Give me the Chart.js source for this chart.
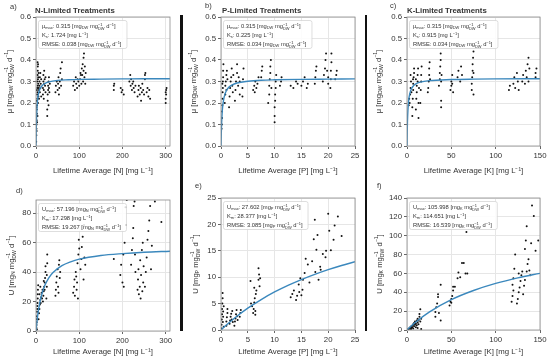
<!DOCTYPE html>
<html>
<head>
<meta charset="utf-8">
<script src="https://cdn.jsdelivr.net/npm/chart.js@4/dist/chart.umd.min.js"></script>
<style>
html, body { margin: 0; padding: 0; background: #fff; }
#fig { position: relative; width: 550px; height: 361px; overflow: hidden; }
#fig canvas { position: absolute; }
.bar { position: absolute; background: #111; }
</style>
</head>
<body>
<div id="fig">
  <canvas id="pa"></canvas>
  <canvas id="pb"></canvas>
  <canvas id="pc"></canvas>
  <canvas id="pd"></canvas>
  <canvas id="pe"></canvas>
  <canvas id="pf"></canvas>
  <div class="bar" style="left:180px;top:15px;width:3px;height:316px"></div>
  <div class="bar" style="left:365px;top:15px;width:2px;height:316px"></div>
</div>
<script>
// tick values
var nConcTicks = [0, 100, 200, 300];
var pConcTicks = [0, 5, 10, 15, 20, 25];
var kConcTicks = [0, 50, 100, 150];
var growthTicks = [0, 0.1, 0.2, 0.3, 0.4, 0.5, 0.6];
var nUptakeTicks = [0, 20, 40, 60, 80];
var pUptakeTicks = [0, 5, 10, 15, 20, 25];
var kUptakeTicks = [0, 20, 40, 60, 80, 100, 120, 140];

// observed growth rate (mu) vs lifetime average concentration
var nGrowthPts = [[0.5,0.02],[0.8,0.05],[1,0.08],[1.2,0.1],[1.5,0.12],[2,0.15],[1.8,0.17],[2.5,0.19],[2.2,0.21],[3,0.22],[2.8,0.24],[3.5,0.25],[3,0.27],[4,0.28],[3.2,0.3],[4.5,0.31],[3.8,0.33],[4,0.35],[4.2,0.37],[3.6,0.39],[2,0.26],[1,0.18],[5,0.29],[5,0.32],
  [1.5,0.07],[2.5,0.11],[3.5,0.14],[4.5,0.2],[5.5,0.23],[6,0.27],[6,0.34],[4.8,0.38],
  [7,0.22],[7,0.26],[8,0.28],[8,0.3],[9,0.32],[9,0.25],[10,0.27],[10,0.34],[11,0.29],[12,0.31],[12,0.23],
  [16,0.24],[16,0.27],[17,0.3],[17,0.33],[18,0.26],[19,0.29],[19,0.35],[20,0.31],[21,0.28],[22,0.25],[22,0.32],[18,0.22],
  [26,0.14],[26,0.17],[27,0.21],[27,0.24],[28,0.26],[28,0.28],[29,0.3],[30,0.27],[30,0.32],[31,0.25],[32,0.29],[29,0.19],
  [45,0.25],[46,0.28],[48,0.3],[50,0.26],[51,0.29],[52,0.32],[54,0.27],[55,0.3],[56,0.34],[58,0.28],[60,0.31],[60,0.39],[57,0.36],[53,0.24],
  [86,0.28],[88,0.3],[90,0.26],[92,0.32],[93,0.29],[95,0.27],[96,0.31],[98,0.3],[100,0.28],
  [102,0.31],[103,0.34],[105,0.29],[106,0.36],[107,0.33],[108,0.38],[109,0.3],[110,0.35],[110,0.41],[111,0.43],[112,0.32],[113,0.37],[114,0.29],[115,0.34],[104,0.33],
  [180,0.26],[180,0.28],[181,0.29],[196,0.27],[198,0.25],[200,0.26],[203,0.24],
  [216,0.3],[218,0.33],[219,0.28],[220,0.31],[222,0.26],[223,0.29],[225,0.3],[226,0.27],[228,0.25],[230,0.28],
  [235,0.23],[237,0.26],[238,0.28],[240,0.24],[242,0.27],[243,0.21],[245,0.25],[246,0.29],[248,0.26],[250,0.24],[252,0.31],[252,0.33],[253,0.34],
  [256,0.25],[258,0.27],[260,0.23],[262,0.26],[264,0.22],
  [300,0.2],[300,0.22],[301,0.24],[301,0.26],[302,0.27],[300,0.25]];
var pGrowthPts = [[0.1,0.08],[0.15,0.1],[0.2,0.13],[0.2,0.16],[0.25,0.19],[0.3,0.22],[0.3,0.25],[0.35,0.27],[0.35,0.3],[0.4,0.32],[0.4,0.35],[0.45,0.38],[0.25,0.29],
  [0.7,0.2],[0.8,0.24],[0.8,0.28],[0.9,0.3],[1,0.33],[1,0.26],[1.1,0.35],[1.2,0.31],
  [1.5,0.18],[1.6,0.23],[1.7,0.27],[1.8,0.3],[1.9,0.32],[2,0.36],[2.1,0.28],[2.2,0.25],[2.3,0.33],
  [2.6,0.21],[2.7,0.26],[2.8,0.3],[3,0.34],[3,0.38],[3.2,0.28],[3.3,0.32],[3.5,0.24],[3.5,0.3],
  [4,0.23],[4,0.27],[4.1,0.31],[4.2,0.36],
  [6,0.26],[6.2,0.28],[6.4,0.3],[6.6,0.27],[6.8,0.29],[7,0.32],[6.3,0.25],[7.5,0.32],[7.6,0.35],[7.7,0.37],
  [8.8,0.2],[9,0.24],[9,0.28],[9.1,0.31],[9.2,0.34],[9.2,0.37],[9.3,0.4],[9.4,0.27],
  [10,0.11],[10,0.14],[10,0.18],[10.1,0.21],[10.1,0.24],[10.2,0.27],[10.2,0.3],[10.3,0.33],
  [11,0.28],[11.2,0.3],[11.3,0.32],[13,0.28],[13.5,0.27],[14,0.3],[14.3,0.29],
  [15,0.28],[15.3,0.3],[15.6,0.32],[16,0.27],[16.2,0.29],
  [17.5,0.29],[17.6,0.32],[17.7,0.35],[17.8,0.37],
  [19,0.3],[19.2,0.33],[19.4,0.36],[19.5,0.4],[19.6,0.43],[19.8,0.35],[20,0.29],[20,0.32],
  [20.4,0.27],[20.5,0.31],[20.5,0.35],[20.6,0.39],[20.6,0.43],[21.3,0.31],[21.5,0.33],[21.6,0.35]];
var kGrowthPts = [[2,0.19],[2.5,0.22],[3,0.2],[3.5,0.24],[4,0.27],[4.5,0.3],[4,0.33],[5,0.25],
  [6,0.14],[6,0.18],[6.5,0.22],[7,0.26],[7,0.29],[7.5,0.32],[8,0.34],[8,0.36],[6.8,0.31],
  [10,0.17],[10.5,0.22],[11,0.25],[11,0.28],[12,0.3],[12,0.33],[12.5,0.36],[13,0.13],[13,0.2],[13.5,0.27],[10,0.31],
  [15,0.2],[15.5,0.26],[16,0.3],[16,0.33],[16.5,0.37],
  [24,0.27],[24.5,0.3],[25,0.33],[25,0.36],[25.5,0.39],[26,0.31],[23.5,0.25],
  [36,0.28],[37,0.31],[37,0.34],[37.5,0.37],[38,0.4],[38,0.43],[38.5,0.18],[38.5,0.21],[38.5,0.3],[39,0.33],
  [49,0.26],[50,0.28],[50,0.3],[51,0.33],[52,0.25],[51,0.29],
  [57,0.32],[58,0.35],[60,0.3],[61,0.37],[62,0.33],
  [73,0.26],[73,0.29],[73.5,0.32],[74,0.35],[74,0.38],[74.5,0.41],[75,0.44],[75,0.24],[75,0.34],
  [115,0.26],[116,0.28],[120,0.29],[121,0.32],[122,0.27],[124,0.34],[125,0.3],[126,0.26],
  [130,0.3],[131,0.33],[133,0.29],[134,0.35],[135,0.32],[136,0.38],[137,0.41],[137,0.3],[138,0.36],
  [145,0.32],[145,0.34],[146,0.36]];

// observed uptake rate (U) vs lifetime average concentration
var nUptakePts = [[0.5,0.5],[1,2],[1,4],[1.5,6],[2,8],[2,10],[2.5,13],[3,15],[3,17],[3.5,19],[4,22],[4,25],[4.5,28],[5,31],[2,1],
  [6,8],[7,12],[8,15],[9,18],[10,21],[11,19],[12,23],[13,26],[14,22],[15,28],[8,25],[10,30],
  [16,20],[17,24],[18,27],[19,30],[20,33],[21,36],[22,40],[22,44],[20,28],[18,34],
  [24,22],[25,30],[25,38],[26,46],[26,52],
  [45,24],[46,28],[47,33],[48,37],[50,42],[51,30],[52,26],[53,45],[54,48],[55,36],[56,40],
  [86,26],[88,30],[89,35],[90,24],[92,40],[93,37],[94,28],[95,33],[96,46],[97,22],[98,52],[100,56],[99,62],
  [103,42],[105,49],[106,57],[108,64],[110,35],[111,72],[112,50],[114,45],
  [180,49],[195,38],[197,45],[200,33],[203,30],[205,60],[207,84],[208,72],[210,89],[202,52],
  [220,45],[222,55],[224,63],[225,70],[226,85],[228,88],[229,52],[230,40],
  [235,28],[236,35],[237,42],[238,25],[240,30],[241,48],[242,22],[243,38],[245,55],[246,27],[247,60],[248,33],[249,44],
  [252,30],[254,40],[256,50],[258,62],[260,68],[262,75],[264,85],[266,42],[268,58],[290,74],[275,88]];
var pUptakePts = [[0.1,0.3],[0.1,1],[0.15,2],[0.2,3],[0.2,4],[0.25,5],[0.3,6],[0.3,7],[0.35,1.5],[0.4,2.5],[0.4,3.5],[0.5,4.5],[0.5,0.6],
  [1,0.8],[1,1.6],[1.1,2.4],[1.2,3.2],[1.2,4],
  [1.6,1.2],[1.7,1.8],[1.8,2.5],[1.9,3.1],[2,2],[2.1,3.6],[2.2,1.5],
  [2.5,0.8],[2.6,1.6],[2.7,2.2],[2.8,3],[2.9,3.8],[3,2.6],[3.1,1.9],[3.5,2.5],[3.6,3.2],[3.7,3.8],
  [5.5,9.3],[5.6,5],[5.8,4.5],[6,3.2],[6.1,4],[6.2,5.2],[6.3,6],[6.4,3.6],[6.5,6.8],[6.6,7.5],[6.2,8],[6.4,2.9],
  [7,9.5],[7.1,10.5],[7,11.7],[7.2,8.3],[7.3,9.8],
  [13,6.2],[13.3,6.8],[13.6,7.5],[14,5.7],[14.2,6.5],[14.5,8.6],[14.6,7.2],[14.8,9.8],[15,6.6],[15.2,7.6],[15.3,9.5],
  [15.6,10.8],[15.8,13.5],[16.2,12.4],[16.5,9],[17,13],[17.3,17.2],[17.5,20.9],[17.6,11],[17.8,15.2],[18,18],[18.2,9.5],
  [18.5,12],[18.6,11.4],[19,14.4],[19.5,13.8],[19.6,15],[20,22],[20.2,18.8],[20.5,15.1],[21,17.1],[21.2,19.8],[21.8,21.5],[22.5,17.8]];
var kUptakePts = [[1,0.5],[2,1],[3,1.5],[3,2.5],[4,3],[4.5,1],[5,2],[5,4],[6,3],[6.5,5],[7,1.5],[7,6],[8,4],[8,7.5],[9,5.5],[9,9],
  [10,3],[10,7],[11,10],[11,5],[12,8],[12,12],[13,6],[13,10],[14,14],[14,17],[15,9],[15,22],[16,12],[12,2],[16,1],
  [32,14],[32,19],[33,24],[34,28],[35,35],[35,38],[36,18],[38,10],[38,48],
  [48,26],[49,30],[50,33],[50,29],[51,36],[52,46],[52,42],[54,46],
  [57,55],[58,61],[60,56],[62,71],[64,71],[66,60],[67,104],[68,60],
  [118,30],[119,36],[120,42],[120,55],[121,65],[122,80],[119,48],
  [124,28],[125,33],[126,40],[127,45],[128,52],[129,58],[130,62],[126,60],
  [131,38],[132,47],[133,53],[133,86],[134,95],[135,62],[135,110],[136,70],[137,75],[138,63],[139,58],[140,92],[141,132],
  [143,121],[145,84],[148,95]];

// fitted curves
var nGrowthFit = [[0,0],[0.25,0.041],[0.5,0.071],[1,0.116],[2,0.169],[3,0.2],[5,0.234],[7.5,0.256],[10,0.269],[15,0.283],[20,0.29],[30,0.298],[50,0.305],[75,0.308],[100,0.31],[150,0.311],[200,0.312],[250,0.313],[310,0.313]];
var pGrowthFit = [[0,0],[0.05,0.057],[0.1,0.097],[0.2,0.148],[0.3,0.18],[0.5,0.217],[0.75,0.242],[1,0.257],[1.5,0.274],[2,0.283],[3,0.293],[5,0.301],[7.5,0.306],[10,0.308],[15,0.31],[20,0.311],[25,0.312]];
var kGrowthFit = [[0,0],[0.25,0.068],[0.5,0.111],[1,0.164],[2,0.216],[3,0.241],[5,0.266],[7.5,0.281],[10,0.289],[15,0.297],[25,0.304],[50,0.309],[75,0.311],[100,0.312],[150,0.313]];
var nUptakeFit = [[0,0],[1,3.1],[2,5.9],[3.5,9.6],[5,12.8],[7.5,17.3],[10,20.9],[15,26.5],[20,30.7],[30,36.3],[40,39.9],[60,44.4],[80,47],[100,48.8],[150,51.3],[200,52.6],[250,53.5],[310,54.2]];
var pUptakeFit = [[0,0],[1,0.94],[2.5,2.24],[5,4.14],[7.5,5.77],[10,7.2],[12.5,8.45],[15,9.55],[17.5,10.53],[20,11.42],[22.5,12.22],[25,12.93]];
var kUptakeFit = [[0,0],[5,4.4],[10,8.5],[25,19],[50,32.2],[75,41.9],[100,49.4],[125,55.3],[150,60.1]];

var growthNotes = [
  ['μ_{max}: 0.315 [mg_{DW} mg@{−1|DW} d^{−1}]', 'K_{s}: 1.724 [mg L^{−1}]', 'RMSE: 0.038 [mg_{DW} mg@{−1|DW} d^{−1}]'],
  ['μ_{max}: 0.315 [mg_{DW} mg@{−1|DW} d^{−1}]', 'K_{s}: 0.225 [mg L^{−1}]', 'RMSE: 0.034 [mg_{DW} mg@{−1|DW} d^{−1}]'],
  ['μ_{max}: 0.315 [mg_{DW} mg@{−1|DW} d^{−1}]', 'K_{s}: 0.915 [mg L^{−1}]', 'RMSE: 0.034 [mg_{DW} mg@{−1|DW} d^{−1}]']
];
var uptakeNotes = [
  ['U_{max}: 57.196 [mg_{N} mg@{−1|DW} d^{−1}]', 'K_{m}: 17.298 [mg L^{−1}]', 'RMSE: 19.267 [mg_{N} mg@{−1|DW} d^{−1}]'],
  ['U_{max}: 27.602 [mg_{P} mg@{−1|DW} d^{−1}]', 'K_{m}: 28.377 [mg L^{−1}]', 'RMSE: 3.085 [mg_{P} mg@{−1|DW} d^{−1}]'],
  ['U_{max}: 105.998 [mg_{K} mg@{−1|DW} d^{−1}]', 'K_{m}: 114.651 [mg L^{−1}]', 'RMSE: 16.539 [mg_{K} mg@{−1|DW} d^{−1}]']
];

var FONT = '"Liberation Sans", Arial, sans-serif';
Chart.defaults.font.family = FONT;
Chart.defaults.color = '#333';

// split "a_{b}^{c}@{sup|sub}" into runs
function richParts(str) {
  return str.split(/(_\{[^}]*\}|\^\{[^}]*\}|@\{[^}]*\})/).filter(Boolean).map(function (s) {
    if (s.slice(0, 2) === '_{') return { kind: 'sub', t: s.slice(2, -1) };
    if (s.slice(0, 2) === '^{') return { kind: 'sup', t: s.slice(2, -1) };
    if (s.slice(0, 2) === '@{') { var q = s.slice(2, -1).split('|'); return { kind: 'both', t: q[0], b: q[1] }; }
    return { kind: 'n', t: s };
  });
}

function drawRich(ctx, str, x, y, size, align, rot, bold, measureOnly) {
  var parts = richParts(str), small = size * 0.68, w = 0;
  var f = function (s) { return (bold ? 'bold ' : '') + s + 'px ' + FONT; };
  parts.forEach(function (p) {
    if (p.kind === 'n') { ctx.font = f(size); p.w = ctx.measureText(p.t).width; }
    else {
      ctx.font = f(small);
      p.w = Math.max(ctx.measureText(p.t).width, p.b ? ctx.measureText(p.b).width : 0);
    }
    w += p.w;
  });
  if (measureOnly) return w;
  ctx.save();
  ctx.translate(x, y);
  ctx.rotate(rot || 0);
  ctx.fillStyle = '#333';
  ctx.textBaseline = 'alphabetic';
  ctx.textAlign = 'left';
  var cx = align === 'center' ? -w / 2 : 0, base = size * 0.35;
  parts.forEach(function (p) {
    if (p.kind === 'n') { ctx.font = f(size); ctx.fillText(p.t, cx, base); }
    else {
      ctx.font = f(small);
      if (p.kind === 'sub') ctx.fillText(p.t, cx, base + size * 0.22);
      if (p.kind === 'sup') ctx.fillText(p.t, cx, base - size * 0.42);
      if (p.kind === 'both') { ctx.fillText(p.t, cx, base - size * 0.42); ctx.fillText(p.b, cx, base + size * 0.26); }
    }
    cx += p.w;
  });
  ctx.restore();
  return w;
}

function decor(p) {
  return {
    id: 'decor',
    afterDraw: function (chart) {
      var ctx = chart.ctx, ar = chart.chartArea, ox = p.canvas[0], oy = p.canvas[1];
      ctx.save();
      ctx.strokeStyle = '#8c8c8c';
      ctx.lineWidth = 0.8;
      ctx.strokeRect(ar.left, ar.top, ar.right - ar.left, ar.bottom - ar.top);

      // parameter box
      var maxW = 0;
      p.notes.forEach(function (s) { maxW = Math.max(maxW, drawRich(ctx, s, 0, 0, 5.8, 'left', 0, false, true)); });
      ctx.beginPath();
      ctx.roundRect(ar.left + 2.5, ar.top + 3.5, maxW + 9, 28, 2);
      ctx.fillStyle = 'rgba(255,255,255,0.85)';
      ctx.fill();
      ctx.strokeStyle = '#d0d0d0';
      ctx.lineWidth = 0.7;
      ctx.stroke();
      p.notes.forEach(function (s, i) { drawRich(ctx, s, ar.left + 6, ar.top + 9 + i * 9, 5.8, 'left', 0, false); });

      drawRich(ctx, p.label, p.labelAt[0] - ox, p.labelAt[1] - oy, 7.5, 'left', 0, false);
      if (p.title) drawRich(ctx, p.title, p.titleAt[0] - ox, p.titleAt[1] - oy, 7.8, 'left', 0, true);
      drawRich(ctx, p.yTitle, p.yTitleX - ox, (ar.top + ar.bottom) / 2, 7.6, 'center', -Math.PI / 2, false);
      ctx.restore();
    }
  };
}

function makePanel(p) {
  var cv = document.getElementById(p.id), c = p.canvas, a = p.area;
  cv.width = c[2]; cv.height = c[3];
  cv.style.left = c[0] + 'px'; cv.style.top = c[1] + 'px';
  var toXY = function (d) { return { x: d[0], y: d[1] }; };
  var toTicks = function (arr) { return function (s) { s.ticks = arr.map(function (v) { return { value: v }; }); }; };
  new Chart(cv, {
    type: 'scatter',
    data: {
      datasets: [
        { type: 'line', data: p.fit.map(toXY), borderColor: '#3b88bd', borderWidth: 1.4, pointRadius: 0,
          cubicInterpolationMode: 'monotone', fill: false, order: 0 },
        { data: p.obs.map(toXY), pointRadius: 1, backgroundColor: '#111', borderWidth: 0, order: 1 }
      ]
    },
    options: {
      responsive: false, animation: false, devicePixelRatio: 1,
      layout: { padding: { left: 0, top: a[1] - c[1], right: c[0] + c[2] - a[2], bottom: 0 } },
      plugins: { legend: { display: false }, tooltip: { enabled: false } },
      scales: {
        x: {
          type: 'linear', min: 0, max: p.xMax,
          afterBuildTicks: toTicks(p.xTicks),
          afterFit: function (s) { s.height = c[1] + c[3] - a[3]; },
          ticks: { autoSkip: false, maxRotation: 0, padding: 2, font: { size: 7.8 } },
          grid: { color: '#e6e6e6', tickColor: '#666', tickLength: 3 },
          border: { display: false },
          title: { display: true, text: p.xTitle, font: { size: 7.8 }, padding: { top: 0, bottom: 4 } }
        },
        y: {
          type: 'linear', min: 0, max: p.yMax,
          afterBuildTicks: toTicks(p.yTicks),
          afterFit: function (s) { s.width = a[0] - c[0]; },
          ticks: { autoSkip: false, padding: 2, font: { size: 7.8 },
                   callback: function (v) { return v.toFixed(p.yDec); } },
          grid: { color: '#e6e6e6', tickColor: '#666', tickLength: 3 },
          border: { display: false }
        }
      }
    },
    plugins: [decor(p)]
  });
}

var muTitle = 'μ [mg_{DW} mg@{−1|DW} d^{−1}]';
var panels = [
  { id: 'pa', canvas: [0, 0, 180, 180], area: [36, 17, 170, 146], obs: nGrowthPts, fit: nGrowthFit, notes: growthNotes[0],
    xMax: 310, xTicks: nConcTicks, yMax: 0.6, yTicks: growthTicks, yDec: 1, label: 'a)', labelAt: [10, 6],
    title: 'N-Limited Treatments', titleAt: [35, 10], xTitle: 'Lifetime Average [N] [mg L⁻¹]', yTitle: muTitle, yTitleX: 9 },
  { id: 'pb', canvas: [184, 0, 181, 180], area: [221, 17, 355, 146], obs: pGrowthPts, fit: pGrowthFit, notes: growthNotes[1],
    xMax: 25, xTicks: pConcTicks, yMax: 0.6, yTicks: growthTicks, yDec: 1, label: 'b)', labelAt: [205, 5],
    title: 'P-Limited Treatments', titleAt: [222, 10], xTitle: 'Lifetime Average [P] [mg L⁻¹]', yTitle: muTitle, yTitleX: 193 },
  { id: 'pc', canvas: [368, 0, 182, 180], area: [407, 17, 540, 146], obs: kGrowthPts, fit: kGrowthFit, notes: growthNotes[2],
    xMax: 150, xTicks: kConcTicks, yMax: 0.6, yTicks: growthTicks, yDec: 1, label: 'c)', labelAt: [390, 5],
    title: 'K-Limited Treatments', titleAt: [407, 10], xTitle: 'Lifetime Average [K] [mg L⁻¹]', yTitle: muTitle, yTitleX: 378 },
  { id: 'pd', canvas: [0, 180, 180, 181], area: [36, 200, 170, 331], obs: nUptakePts, fit: nUptakeFit, notes: uptakeNotes[0],
    xMax: 310, xTicks: nConcTicks, yMax: 89, yTicks: nUptakeTicks, yDec: 0, label: 'd)', labelAt: [16, 190],
    xTitle: 'Lifetime Average [N] [mg L⁻¹]', yTitle: 'U [mg_{N} mg@{−1|DW} d^{−1}]', yTitleX: 11 },
  { id: 'pe', canvas: [184, 180, 181, 181], area: [221, 198, 355, 330], obs: pUptakePts, fit: pUptakeFit, notes: uptakeNotes[1],
    xMax: 25, xTicks: pConcTicks, yMax: 25, yTicks: pUptakeTicks, yDec: 0, label: 'e)', labelAt: [195, 185],
    xTitle: 'Lifetime Average [P] [mg L⁻¹]', yTitle: 'U [mg_{P} mg@{−1|DW} d^{−1}]', yTitleX: 195 },
  { id: 'pf', canvas: [368, 180, 182, 181], area: [407, 198, 540, 330], obs: kUptakePts, fit: kUptakeFit, notes: uptakeNotes[2],
    xMax: 150, xTicks: kConcTicks, yMax: 140, yTicks: kUptakeTicks, yDec: 0, label: 'f)', labelAt: [377, 185],
    xTitle: 'Lifetime Average [K] [mg L⁻¹]', yTitle: 'U [mg_{K} mg@{−1|DW} d^{−1}]', yTitleX: 379 }
];

panels.forEach(makePanel);
</script>
</body>
</html>
